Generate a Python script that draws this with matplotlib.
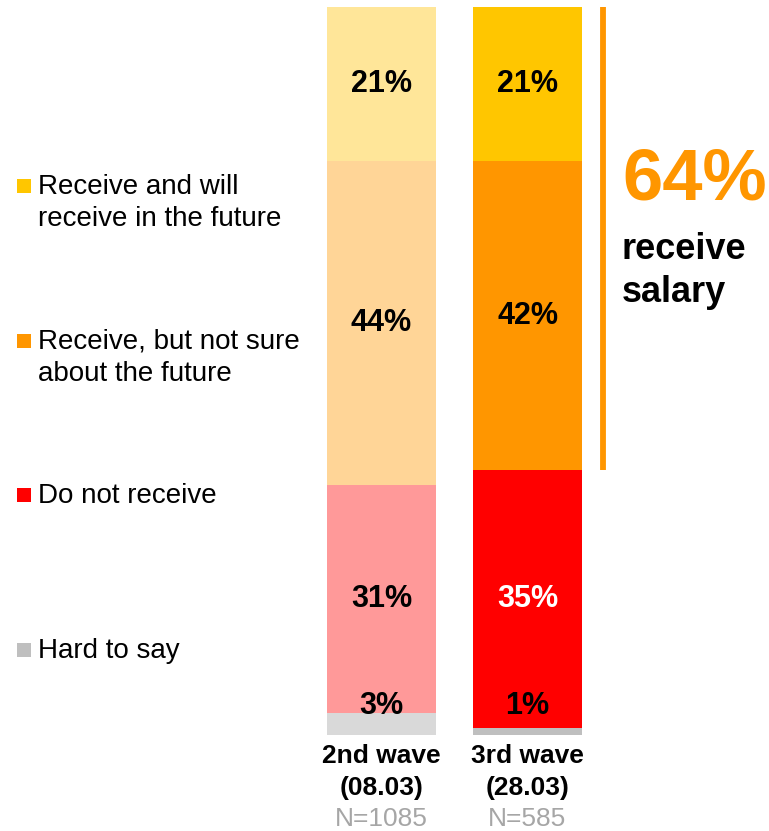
import numpy as np
import matplotlib.pyplot as plt
from matplotlib.patches import Rectangle

plt.rcParams['font.family'] = ['Liberation Sans', 'DejaVu Sans']

waves = ["2nd wave\n(08.03)", "3rd wave\n(28.03)"]
sample_sizes = ["N=1085", "N=585"]
answers = ["Hard to say", "Do not receive",
           "Receive, but not sure\nabout the future",
           "Receive and will\nreceive in the future"]
# shares per answer (bottom to top), one value per wave
hard_to_say = [3, 1]
do_not_receive = [31, 35]
not_sure = [44, 42]
will_receive = [21, 21]
salary_total = 64

shares = [hard_to_say, do_not_receive, not_sure, will_receive]
colors_3rd = ["#BFBFBF", "#FF0000", "#FF9600", "#FFC600"]
colors_2nd = ["#D9D9D9", "#FF9999", "#FFD597", "#FFE699"]
label_colors_3rd = ["black", "white", "black", "black"]

W, H = 769, 831
fig = plt.figure(figsize=(W / 100, H / 100), dpi=100)

# axes spans the whole width; y maps 0..99 onto the bar area
px_per_unit = 146
centre0 = 381.5
ax = fig.add_axes([0, (H - 735) / H, 1, (735 - 7) / H])
ax.set_xlim(-centre0 / px_per_unit, (W - centre0) / px_per_unit)
ax.set_ylim(0, 99)
ax.axis("off")

x = np.arange(len(waves))
bottom = np.zeros(len(waves))
for i, vals in enumerate(shares):
    vals = np.array(vals)
    cols = [colors_2nd[i], colors_3rd[i]]
    ax.bar(x, vals, bottom=bottom, width=0.747, color=cols, linewidth=0)
    for j in range(len(waves)):
        mid = bottom[j] + vals[j] / 2
        y = max(mid, 3.9)
        tc = "black" if j == 0 else label_colors_3rd[i]
        ax.text(x[j], y, f"{vals[j]}%", ha="center", va="center",
                fontsize=22, fontweight="bold", color=tc)
    bottom = bottom + vals

# bracket for everyone who receives salary in the 3rd wave
top = bottom[1]
low = top - will_receive[1] - not_sure[1]
bx = (603 - centre0) / px_per_unit
ax.plot([bx, bx], [low, top], color="#FF9600", lw=4.2, solid_capstyle="butt",
        clip_on=False)
fig.text(622 / W, 1 - 180 / H, f"{salary_total}%", color="#FF9600",
         fontsize=52, fontweight="bold", ha="left", va="center")
fig.text(622 / W, 1 - 232 / H, "receive\nsalary", color="black",
         fontsize=26, fontweight="bold", ha="left", va="top",
         linespacing=1.3)

# wave captions under the bars
for j in range(len(waves)):
    xf = (centre0 + j * px_per_unit) / W
    fig.text(xf, 1 - 744 / H, waves[j], ha="center", va="top",
             fontsize=19, fontweight="bold", linespacing=1.42)
    fig.text(xf, 1 - 819 / H, sample_sizes[j], ha="center", va="center",
             fontsize=19, color="#A6A6A6")

# legend on the left
legend_y = [650, 495, 341, 186]
for i, name in enumerate(answers):
    yc = legend_y[i]
    fig.patches.append(Rectangle((17 / W, 1 - (yc + 7) / H), 14 / W, 14 / H,
                                 transform=fig.transFigure,
                                 color=colors_3rd[i], linewidth=0))
    fig.text(38 / W, 1 - (yc - 12) / H, name, ha="left", va="top",
             fontsize=20, linespacing=1.3)

fig.savefig("out.png", dpi=100)
